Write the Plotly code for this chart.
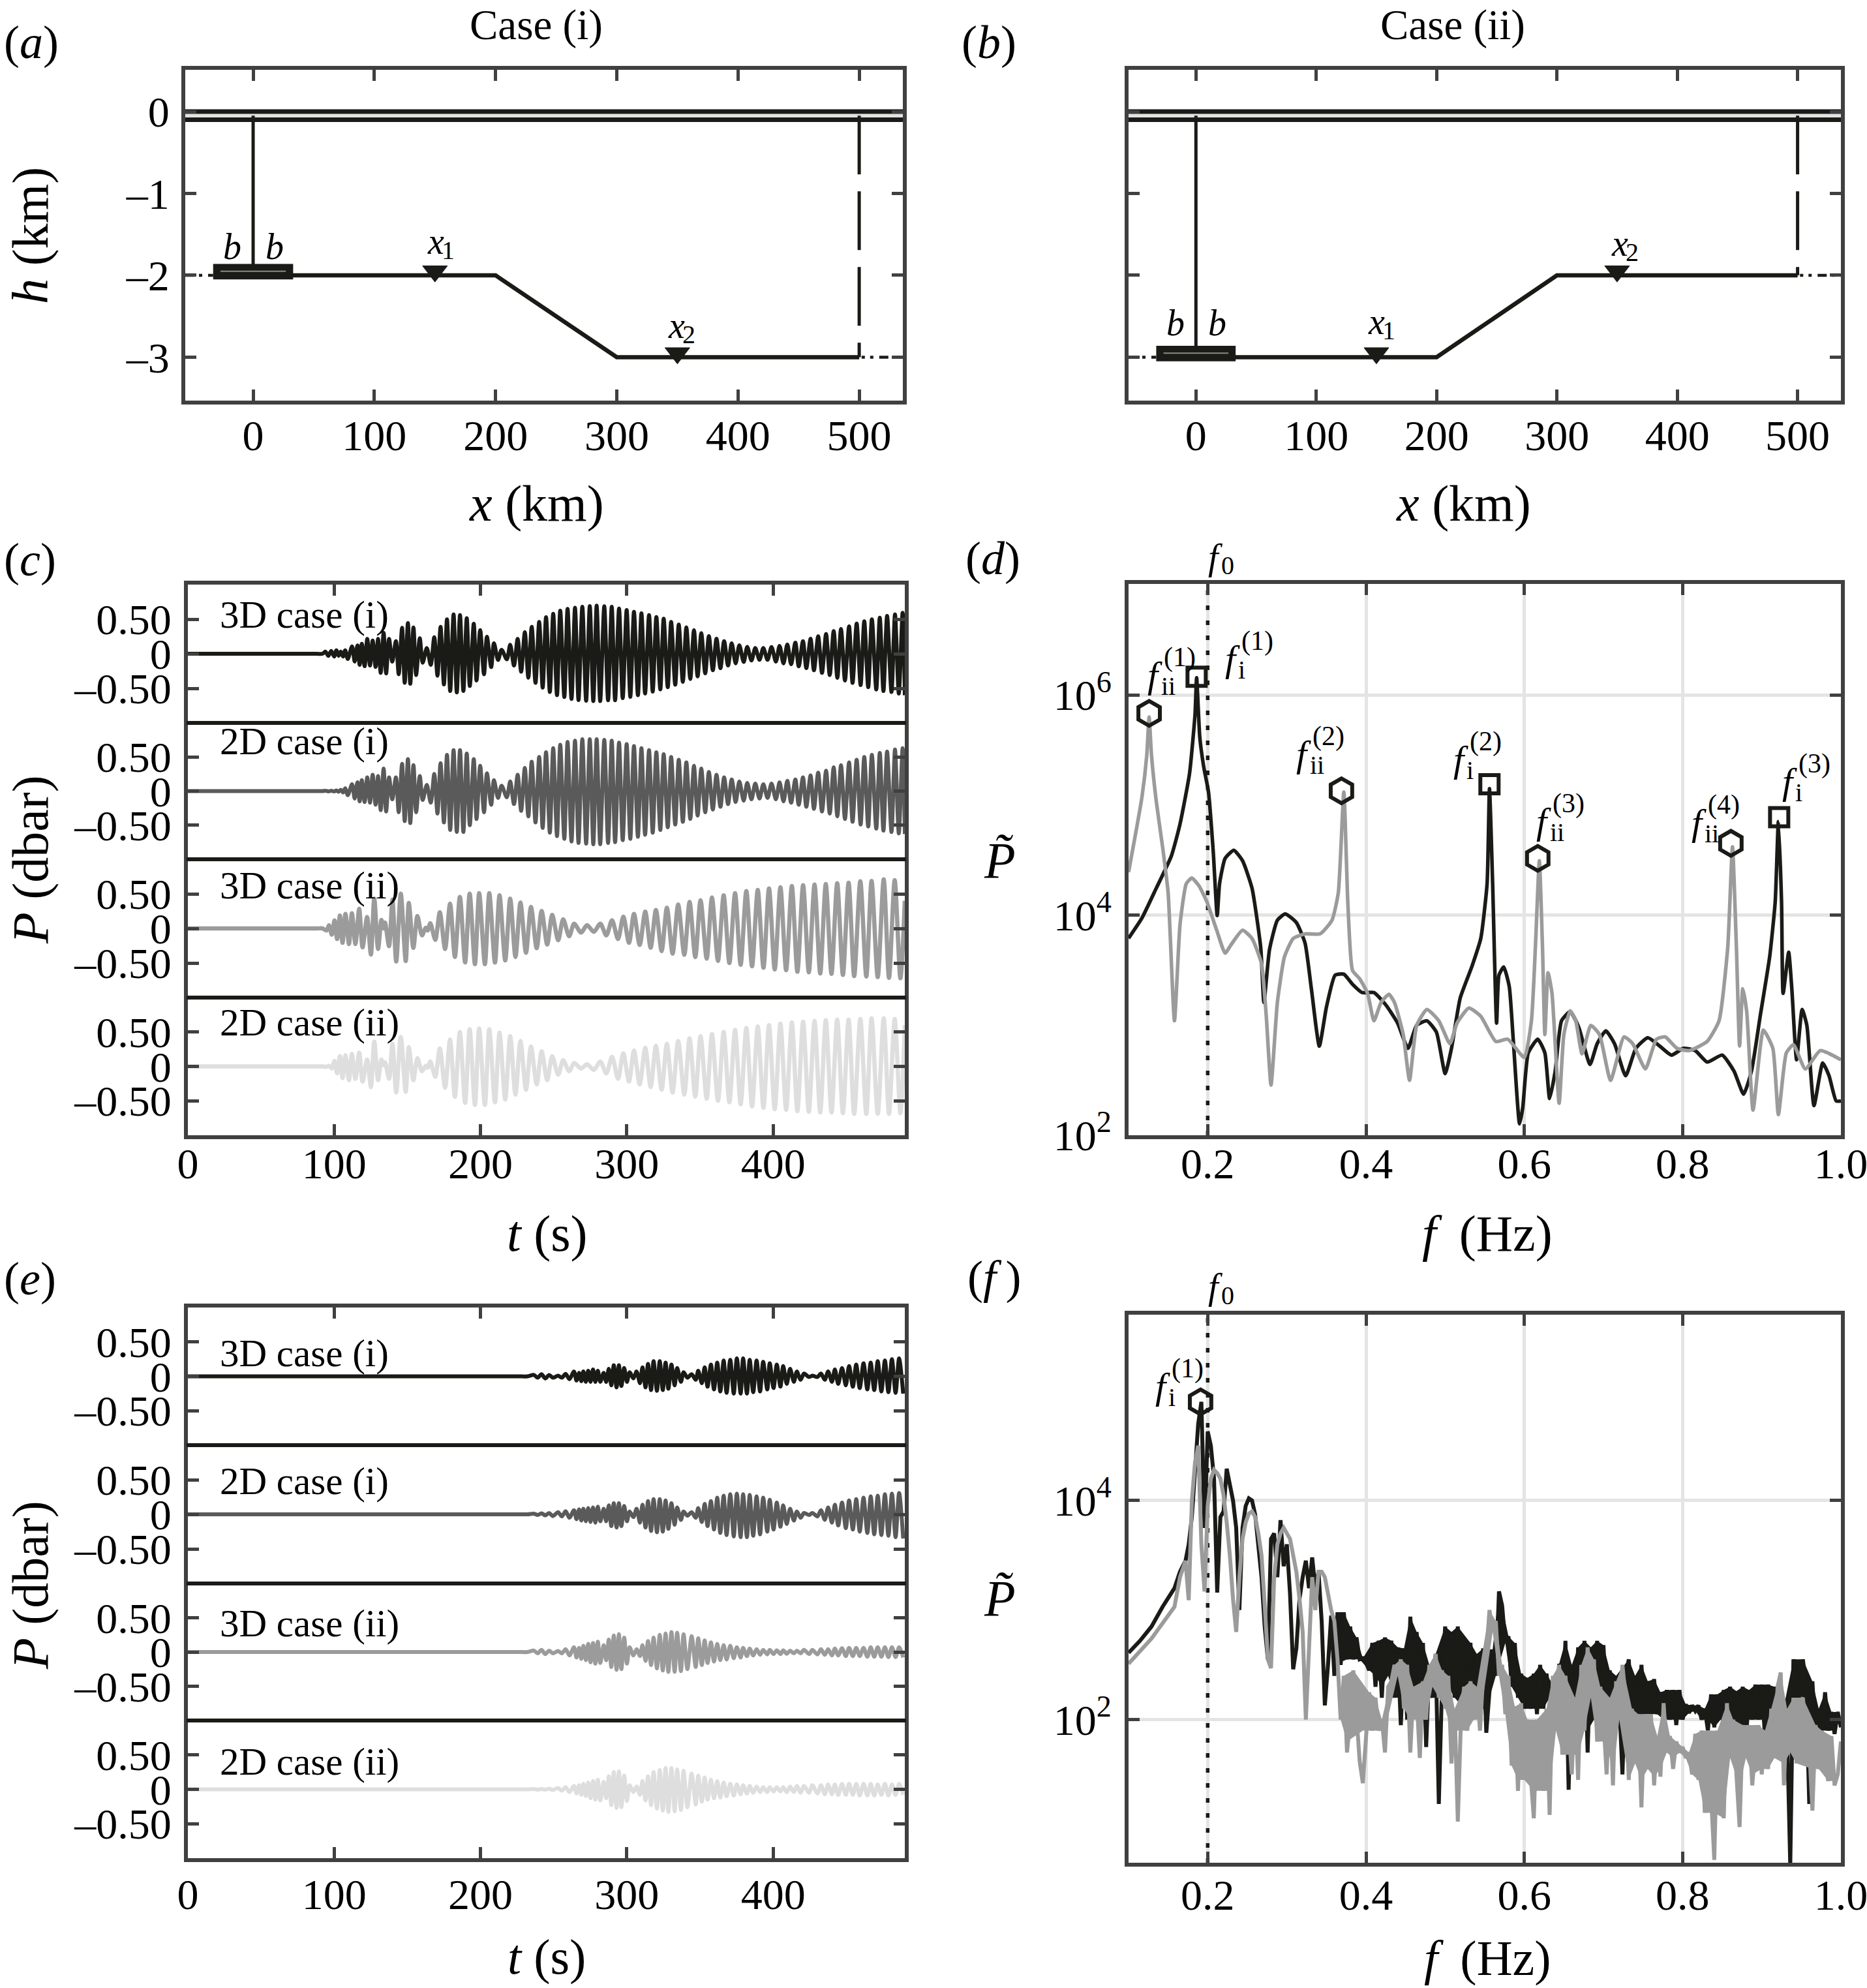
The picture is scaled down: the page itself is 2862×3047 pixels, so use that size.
import numpy as np
import plotly.graph_objects as go

W, H = 2862, 3047
FONT = "Liberation Serif"
BLACK = "#1a1a16"
FRAME = "#404040"
GRID = "#e4e4e4"
C_3D1, C_2D1, C_3D2, C_2D2 = BLACK, "#5a5a5a", "#9b9b9b", "#dedede"

# ---------- panels (a), (b): geometry ----------
bathy_i_x = [30, 200, 300, 500]
bathy_i_h = [-2, -2, -3, -3]
bathy_ii_x = [30, 200, 300, 500]
bathy_ii_h = [-3, -3, -2, -2]
surface_x = [-56, 536]
surface_top = [0, 0]
surface_bot = [-0.1, -0.1]
source_x = [-33, 33]
receiver_x = [150, 350]
receiver_i_h = [-1.95, -2.95]
receiver_ii_h = [-2.95, -1.95]

# ---------- panel (c): extrema of the pressure records ----------
t_ci = [0, 45, 88, 92, 94, 96, 98, 100, 101.5, 103, 104.5, 106, 107.5, 109.3,
        112.2, 114, 115.9, 117.4, 118.9, 120.8, 122.6, 124.5, 126.3, 128.3, 130, 131.8, 133.8, 135.5, 137.5, 139.7,
        142.2, 144.1, 146.4, 148.2, 150.4, 152, 154.2, 156, 158.5, 160.5, 163.3, 166, 168.4, 170.6, 172.7, 175,
        177.1, 179.3, 181.6, 183.8, 186, 188.3, 190.6, 192.7, 195.4, 197.3, 199.8, 202.4, 204.4, 207.3, 209.2, 212,
        214.4, 218, 220.3, 222.9, 225.4, 227.8, 230.3, 232.7, 235, 237.6, 240.1, 242.5, 244.8, 247.4, 249.7, 252.3,
        254.5, 257.3, 259.5, 262.2, 264.6, 267, 269.6, 272.2, 274.7, 277.1, 279.4, 281.8, 284.6, 287.2, 289.7, 292,
        294.7, 297.2, 299.9, 302.4, 304.9, 307.6, 310, 312.5, 315.2, 317.7, 320.2, 322.9, 325.2, 328, 330.3, 333.1,
        335.5, 338.3, 340.7, 343.4, 345.9, 348.4, 350.9, 353.6, 356.1, 358.8, 361.3, 364, 366.5, 369.2, 371.7, 374.4,
        376.9, 379.9, 382.3, 385.2, 387.8, 390.7, 393.3, 396.2, 398.9, 401.9, 404.4, 407.1, 409.7, 412.3, 415.2, 417.5,
        420.4, 422.7, 425.6, 427.9, 430.8, 433.4, 436.2, 438.7, 441.4, 443.9, 446.4, 449.1, 451.9, 454.3, 457.1, 459.8,
        462.3, 465, 467.5, 470.5, 472.9, 475.4, 477.9, 480.9, 483.3, 485.9, 488.5, 490]
p_c_3d_i = [0, 0, 0, 0, .03, -.03, .04, -.04, .05, -.03, .03, -.04, .05, -.075,
            .107, -.113, .12, -.16, .145, -.18, .214, -.17, .192, -.19, .214, -.277, .302, -.286, .214, -.113,
            .182, -.296, .374, -.42, .443, -.434, .38, -.308, .223, -.129, .082, -.16, .239, -.318, .39, -.443,
            .497, -.538, .569, -.56, .56, -.538, .513, -.465, .434, -.387, .343, -.296, .245, -.192, .151, -.09,
            .057, -.08, .129, -.17, .214, -.26, .311, -.346, .39, -.42, .459, -.49, .528, -.553, .579, -.6,
            .623, -.626, .648, -.654, .664, -.67, .679, -.68, .689, -.685, .695, -.685, .686, -.673, .679, -.673,
            .654, -.642, .632, -.623, .607, -.6, .585, -.575, .56, -.547, .531, -.516, .506, -.484, .459, -.447,
            .421, -.406, .381, -.365, .34, -.327, .296, -.283, .255, -.239, .217, -.208, .182, -.17, .151, -.138,
            .123, -.119, .1, -.097, .082, -.088, .082, -.088, .097, -.113, .113, -.138, .135, -.151, .16, -.182,
            .182, -.208, .217, -.239, .252, -.277, .286, -.308, .327, -.349, .358, -.387, .396, -.421, .437, -.453,
            .469, -.484, .497, -.516, .522, -.538, .547, -.553, .569, -.575, .591, -.6]
p_c_2d_i = [0, 0, 0, 0, .005, -.005, .005, -.005, .01, -.01, .02, -.02, .04, -.06,
            .1, -.11, .13, -.15, .16, -.16, .2, -.17, .24, -.2, .22, -.28, .33, -.3, .2, -.12,
            .2, -.31, .4, -.44, .47, -.47, .38, -.31, .22, -.13, .09, -.17, .25, -.33, .41, -.46,
            .53, -.57, .6, -.6, .6, -.6, .55, -.5, .47, -.41, .37, -.31, .26, -.2, .16, -.1,
            .08, -.09, .14, -.19, .24, -.29, .34, -.37, .43, -.46, .5, -.54, .57, -.61, .63, -.66,
            .68, -.7, .72, -.74, .74, -.76, .76, -.77, .76, -.78, .76, -.78, .75, -.76, .74, -.75,
            .71, -.72, .69, -.7, .66, -.67, .63, -.64, .6, -.61, .57, -.57, .54, -.53, .5, -.49,
            .46, -.45, .42, -.41, .37, -.36, .33, -.31, .28, -.27, .24, -.23, .2, -.19, .17, -.16,
            .14, -.14, .12, -.12, .11, -.11, .1, -.1, .11, -.12, .13, -.15, .15, -.17, .17, -.2,
            .2, -.23, .23, -.26, .27, -.3, .3, -.33, .35, -.37, .38, -.41, .42, -.45, .46, -.49,
            .5, -.52, .53, -.55, .56, -.58, .58, -.6, .61, -.62, .63, -.63]
t_cii = [0, 45, 88, 92, 94.8, 96.4, 98.4, 100.2, 102, 103.9, 105.7, 107.7, 110.1, 112.1, 114.5, 117.1, 119.4, 122.5, 125.1, 127.4,
         130, 132.3, 133.6, 134.7, 137.5, 139.8, 142.4, 145.5, 148.9, 151, 154.1, 156.9, 160, 162.6, 163.9, 165.7,
         169.1, 172.2, 175.8, 179.2, 182.5, 185.9, 189.5, 192.6, 196.2, 199.1, 203, 206, 209.9, 213, 216.9, 220.3,
         223.9, 227.3, 231.1, 234.5, 238.4, 241.8, 245.6, 249, 253.1, 256.5, 260.6, 264, 268.7, 272.8, 277.5, 281.9,
         286, 289.9, 294, 297.6, 301.5, 304.9, 308.8, 312.6, 316.3, 319.9, 323.8, 327.4, 331.3, 335.1, 339.3, 342.9,
         346.8, 350.4, 354.6, 358.2, 362.3, 366.2, 370.1, 374, 377.8, 381.7, 385.6, 389.5, 393.4, 397.2, 401.1, 405,
         408.9, 412.8, 416.6, 420.5, 424.4, 428.3, 432.2, 436, 439.9, 443.8, 447.7, 451.6, 455.4, 459.6, 463.7, 467.3,
         471.5, 475.6, 479.2, 483.1, 487, 490]
p_c_3d_ii = [0, 0, 0, 0, -.03, .044, -.09, .116, -.154, .186, -.208, .211, -.226, .22, -.226, .283, -.274, .164, -.377, .43,
             -.296, .123, 0, .085, -.258, .415, -.478, .503, -.472, .368, -.281, .179, -.1, .01, -.03, .075,
             -.164, .233, -.296, .358, -.412, .456, -.491, .503, -.516, .509, -.516, .509, -.494, .478, -.462, .431,
             -.412, .374, -.352, .311, -.286, .252, -.233, .195, -.17, .132, -.113, .069, -.06, .047, -.05, .069,
             -.1, .119, -.154, .17, -.208, .211, -.239, .242, -.28, .267, -.327, .299, -.365, .346, -.381, .384,
             -.415, .409, -.437, .447, -.469, .478, -.5, .509, -.525, .541, -.547, .557, -.569, .579, -.594, .594,
             -.604, .613, -.626, .626, -.635, .635, -.651, .642, -.657, .654, -.673, .66, -.689, .682, -.695, .686,
             -.704, .711, -.714, .698, -.72, .4]
p_c_2d_ii = [0, 0, 0, 0, -.005, .01, -.03, .08, -.1, .15, -.17, .16, -.2, .18, -.18, .2, -.22, .1, -.3, .36,
             -.2, .1, .02, .06, -.18, .33, -.38, .43, -.37, .28, -.2, .12, -.07, .01, -.02, .07,
             -.15, .26, -.31, .39, -.44, .5, -.53, .54, -.56, .55, -.56, .54, -.52, .49, -.48, .44,
             -.41, .37, -.34, .29, -.26, .22, -.2, .15, -.12, .09, -.07, .05, -.03, .03, -.05, .07,
             -.1, .14, -.18, .19, -.22, .23, -.26, .27, -.3, .3, -.34, .33, -.38, .37, -.41, .41,
             -.44, .44, -.47, .47, -.5, .5, -.52, .53, -.55, .56, -.58, .58, -.6, .6, -.62, .62,
             -.63, .64, -.65, .65, -.66, .66, -.67, .67, -.67, .68, -.68, .68, -.69, .69, -.69, .7,
             -.69, .7, -.69, .69, -.68, .6]

# ---------- panel (e) ----------
t_e = [0, 110, 225, 232.2, 236.5, 239.1, 241.7, 244.3, 246.9, 249.5, 253, 255.6, 258.2, 260.8,
       263.9, 265.6, 267.4, 268.9, 270.3, 272, 273.6, 275.2, 276.9, 278.5, 280.2, 281.9, 284.2, 285.9, 287.7, 289.4,
       291.1, 293, 294.6, 296.3, 298.2, 300.1, 301.9, 304.5, 306.7, 309, 310.7, 312.8, 314.5, 316.6, 318.3, 320.6,
       322.5, 324.6, 326.5, 328.4, 330.5, 332.7, 334.4, 337, 338.8, 341.4, 344.3, 347.1, 348.8, 351.3, 353.2, 355.2,
       357.5, 359.6, 361.8, 363.9, 366.2, 368.2, 370.7, 373.1, 375.2, 377.8, 379.5, 382.1, 384, 386.4, 388.7, 391.1,
       393.2, 396, 397.7, 400.3, 402.5, 405, 406.9, 409.3, 411.6, 414.2, 416.2, 418.8, 421.1, 424.6, 426.8, 430.3,
       432.7, 435.3, 437.6, 440.2, 442.2, 444.5, 447.1, 449.7, 451.9, 454.5, 456.8, 459.2, 461.8, 464.4, 466.7, 469.1,
       471.5, 474, 476.4, 478.8, 481.2, 483.7, 486.1, 488.9]
p_e_3d_i = [0, 0, 0, 0, .02, -.02, .03, -.03, .02, -.02, .01, -.02, .035, -.04,
            .07, -.06, .05, -.07, .07, -.08, .08, -.08, .1, -.08, .08, -.08, .05, -.08, .11, -.13,
            .16, -.16, .16, -.14, .12, -.08, .06, -.03, .07, -.1, .13, -.16, .18, -.2, .22, -.21,
            .22, -.2, .2, -.18, .17, -.13, .12, -.08, .06, -.02, .03, -.05, .08, -.1, .13, -.15,
            .17, -.19, .2, -.22, .23, -.24, .24, -.25, .26, -.25, .26, -.25, .24, -.23, .23, -.22,
            .21, -.19, .19, -.17, .17, -.15, .15, -.11, .11, -.08, .07, -.05, .04, -.01, .01, -.01,
            .04, -.05, .07, -.08, .1, -.11, .12, -.13, .15, -.15, .17, -.17, .19, -.19, .2, -.2,
            .22, -.22, .23, -.23, .25, -.24, .26, -.25]
p_e_2d_i = [0, 0, 0, 0, .01, -.01, .015, -.015, .02, -.025, .03, -.03, .045, -.05,
            .06, -.07, .07, -.09, .08, -.1, .09, -.11, .1, -.12, .11, -.1, .08, -.1, .13, -.17,
            .16, -.19, .16, -.17, .12, -.1, .04, -.04, .08, -.12, .14, -.19, .19, -.24, .22, -.26,
            .22, -.25, .2, -.21, .16, -.15, .1, -.08, .04, -.02, .03, -.05, .09, -.11, .15, -.17,
            .19, -.22, .24, -.27, .27, -.3, .29, -.32, .3, -.33, .29, -.33, .28, -.31, .26, -.29,
            .24, -.25, .21, -.22, .17, -.18, .13, -.14, .08, -.09, .04, -.05, .02, -.01, .02, -.03,
            .06, -.08, .1, -.12, .14, -.16, .17, -.2, .2, -.22, .22, -.25, .24, -.27, .26, -.29,
            .27, -.3, .29, -.31, .3, -.33, .31, -.35]
p_e_3d_ii = [0, 0, 0, 0, .02, -.02, .03, -.03, .02, -.02, .015, -.02, .04, -.05,
             .07, -.08, .06, -.1, .09, -.12, .12, -.15, .13, -.17, .15, -.16, .1, -.12, .18, -.22,
             .24, -.26, .26, -.25, .21, -.17, .07, -.05, .04, -.06, .1, -.13, .16, -.19, .21, -.24,
             .25, -.27, .27, -.29, .29, -.29, .28, -.28, .26, -.25, .23, -.22, .2, -.19, .17, -.16,
             .14, -.14, .12, -.12, .1, -.11, .09, -.09, .07, -.08, .06, -.06, .05, -.05, .04, -.04,
             .03, -.035, .03, -.03, .025, -.03, .025, -.025, .02, -.02, .02, -.02, .03, -.03, .03, -.035,
             .04, -.04, .04, -.05, .05, -.05, .055, -.06, .06, -.06, .06, -.06, .06, -.07, .07, -.07,
             .07, -.07, .07, -.075, .07, -.075, .07, -.08]
p_e_2d_ii = [0, 0, 0, 0, .005, -.005, .005, -.005, .01, -.01, .02, -.02, .03, -.04,
             .05, -.06, .06, -.08, .08, -.1, .1, -.13, .12, -.15, .14, -.16, .11, -.13, .19, -.23,
             .25, -.27, .26, -.26, .2, -.17, .06, -.04, .04, -.08, .12, -.16, .19, -.23, .25, -.28,
             .28, -.31, .31, -.33, .31, -.32, .29, -.3, .27, -.26, .23, -.22, .2, -.18, .17, -.15,
             .14, -.13, .12, -.12, .1, -.1, .08, -.09, .07, -.07, .06, -.06, .05, -.05, .04, -.04,
             .03, -.04, .03, -.03, .03, -.03, .03, -.04, .04, -.04, .05, -.05, .05, -.05, .06, -.06,
             .06, -.07, .07, -.07, .07, -.08, .08, -.08, .08, -.08, .08, -.09, .08, -.09, .08, -.09,
             .07, -.08, .08, -.09, .07, -.08, .08, -.08]

# ---------- panel (d): spectra, log10 of P-tilde ----------
f_d_i = [.1, .117, .135, .154, .165, .177, .184, .186, .19, .195, .201, .207, .212, .215, .222, .233, .244, .256, .267, .271,
         .278, .288, .298, .312, .323, .331, .341, .35, .361, .372, .383, .395, .41, .425, .44, .453, .464, .477, .489, .5,
         .508, .519, .534, .545, .553, .556, .56, .565, .568, .574, .581, .586, .594, .598, .605, .617, .626, .632, .639, .647,
         .658, .669, .683, .692, .703, .714, .728, .741, .756, .771, .786, .801, .816, .831, .85, .865, .877, .887, .898, .91,
         .917, .921, .925, .927, .934, .938, .944, .951, .957, .966, .977, .985, .994, 1.0]
logp_d_i = [3.79, 3.975, 4.245, 4.536, 4.827, 5.285, 5.825, 6.158, 5.617, 5.347, 5.119, 4.578, 3.996, 4.287, 4.516, 4.59, 4.495, 4.245, 3.705, 3.206,
            3.684, 3.954, 4.012, 3.933, 3.746, 3.33, 2.81, 3.164, 3.455, 3.464, 3.372, 3.297, 3.297, 3.185, 3.019, 2.79, 3.0, 3.04, 2.936, 2.561,
            2.79, 3.247, 3.538, 3.788, 4.287, 5.15, 4.287, 3.019, 3.455, 3.53, 3.351, 2.873, 2.104, 2.249, 2.748, 2.873, 2.748, 2.333, 2.582, 3.04,
            3.123, 2.977, 2.644, 2.832, 2.948, 2.832, 2.541, 2.79, 2.886, 2.811, 2.728, 2.79, 2.769, 2.665, 2.728, 2.582, 2.374, 2.582, 3.081, 3.622,
            4.121, 4.85, 4.121, 3.289, 3.663, 3.331, 2.686, 3.143, 2.998, 2.27, 2.657, 2.541, 2.312, 2.312]
f_d_ii = [.1, .109, .117, .123, .126, .129, .135, .143, .15, .158, .165, .173, .18, .189, .199, .211, .222, .229, .244, .256,
          .268, .274, .28, .288, .297, .308, .323, .342, .357, .365, .372, .377, .383, .392, .402, .41, .419, .429, .436, .447,
          .455, .464, .477, .492, .506, .515, .53, .545, .564, .579, .6, .609, .614, .619, .623, .626, .63, .635, .644, .65,
          .658, .665, .673, .684, .695, .709, .726, .737, .753, .767, .778, .793, .808, .831, .846, .857, .863, .868, .872, .876,
          .881, .889, .902, .914, .921, .931, .94, .955, .974, 1.0]
logp_d_ii = [4.391, 4.744, 5.077, 5.451, 5.8, 5.451, 5.035, 4.62, 4.204, 3.04, 3.913, 4.287, 4.337, 4.266, 4.121, 3.871, 3.655, 3.726, 3.863, 3.788,
             3.559, 3.081, 2.457, 3.206, 3.622, 3.788, 3.83, 3.83, 3.954, 4.204, 5.119, 4.121, 3.497, 3.422, 3.289, 3.04, 3.206, 3.281, 3.206, 2.915,
             2.499, 2.998, 3.143, 3.04, 2.832, 3.019, 3.156, 3.081, 2.852, 2.873, 2.707, 3.04, 3.705, 4.495, 3.705, 2.915, 3.476, 3.289, 2.291, 2.915,
             3.131, 3.04, 2.74, 2.998, 2.915, 2.499, 2.894, 2.832, 2.603, 2.873, 2.894, 2.79, 2.769, 2.852, 3.04, 3.705, 4.62, 3.705, 2.811, 3.331,
             3.123, 2.229, 2.956, 2.79, 2.187, 2.748, 2.823, 2.603, 2.769, 2.686]
peak_ii_f = [.126, .369, .617, .861]
peak_ii_log = [5.834, 5.13, 4.516, 4.653]
peak_i_f = [.186, .556, .922]
peak_i_log = [6.166, 5.19, 4.89]
f0 = [.2, .2]

# ---------- panel (f): spectra, log10 of P-tilde ----------
f_f = [.1, .1145, .129, .143, .158, .165,
       .172, .176, .18, .184, .188, .192, .196, .2, .204, .208,
       .212, .216, .22, .224, .228, .232, .236, .24, .244, .248,
       .252, .256, .26, .264, .268, .272, .276, .28, .284, .288,
       .292, .296, .3, .304, .308, .312, .316, .32, .324, .328,
       .332, .336, .34, .344, .348, .352, .356, .36, .364, .368,
       .372, .376, .38, .384, .388, .392, .396, .4, .404, .408,
       .412, .416, .42, .424, .428, .432, .436, .44, .444, .448,
       .452, .456, .46, .464, .468, .472, .476, .48, .484, .488,
       .492, .496, .5, .504, .508, .512, .516, .52, .524, .528,
       .532, .536, .54, .544, .548, .552, .556, .56, .564, .568,
       .572, .576, .58, .584, .588, .592, .596, .6, .604, .608,
       .612, .616, .62, .624, .628, .632, .636, .64, .644, .648,
       .652, .656, .66, .664, .668, .672, .676, .68, .684, .688,
       .692, .696, .7, .704, .708, .712, .716, .72, .724, .728,
       .732, .736, .74, .744, .748, .752, .756, .76, .764, .768,
       .772, .776, .78, .784, .788, .792, .796, .8, .804, .808,
       .812, .816, .82, .824, .828, .832, .836, .84, .844, .848,
       .852, .856, .86, .864, .868, .872, .876, .88, .884, .888,
       .892, .896, .9, .904, .908, .912, .916, .92, .924, .928,
       .932, .936, .94, .944, .948, .952, .956, .96, .964, .968,
       .972, .976, .98, .984, .988, .992, .996, 1.0]
logp_f_i = [2.61, 2.72, 2.85, 3.03, 3.2, 3.35,
            3.45, 3.6, 3.85, 4.3, 4.7, 4.9, 3.75, 4.63, 4.5, 4.2,
            3.16, 3.85, 3.9, 4.29, 4.15, 4.0, 3.75, 3.0, 3.75, 3.95,
            4.02, 4.0, 3.87, 3.6, 3.3, 2.85, 2.55, 3.65, 3.7, 3.3,
            3.82, 3.4, 3.6, 3.15, 2.46, 2.65, 3.1, 3.3, 3.45, 3.2,
            3.48, 3.2, 3.35, 2.9, 2.13, 2.5, 2.95, 2.4, 2.98, 2.5,
            2.98, 2.55, 2.85, 2.55, 2.75, 2.55, 2.56, 2.52, 2.45, 2.7,
            2.3, 2.72, 2.2, 2.75, 2.4, 2.72, 2.2, 2.66, 1.95, 2.65,
            2.0, 2.94, 2.3, 2.8, 2.3, 2.7, 1.75, 2.5, 2.2, 2.6,
            1.23, 2.3, 2.85, 2.3, 2.8, 2.2, 2.85, 2.0, 1.98, 2.6,
            2.7, 2.05, 2.6, 2.1, 2.65, 1.88, 2.3, 2.64, 2.4, 3.17,
            3.04, 2.7, 2.76, 2.3, 2.7, 2.2, 2.42, 2.1, 2.38, 2.1,
            2.42, 2.05, 2.5, 2.1, 2.42, 2.2, 2.32, 1.9, 2.51, 2.1,
            2.72, 1.36, 2.5, 2.0, 2.66, 1.9, 2.72, 1.7, 2.66, 2.0,
            2.72, 1.87, 2.68, 2.1, 2.45, 2.0, 2.4, 2.15, 1.5, 2.4,
            2.55, 2.0, 2.4, 2.0, 2.5, 2.05, 2.35, 2.05, 2.37, 2.05,
            2.25, 2.0, 2.27, 2.0, 2.27, 1.95, 2.27, 2.0, 2.14, 2.06,
            2.13, 2.08, 2.13, 2.0, 2.1, 1.9, 2.23, 1.93, 2.23, 2.0,
            2.27, 1.9, 2.3, 2.0, 2.26, 1.88, 2.3, 1.8, 2.27, 2.0,
            2.32, 2.0, 2.32, 1.85, 2.32, 2.0, 2.3, 1.9, 2.0, 2.12,
            1.9, .67, 2.55, 2.4, 2.2, 2.55, 2.3, 1.23, 2.35, 1.85,
            2.1, 1.9, 2.25, 1.9, 2.07, 1.87, 2.07, 1.93]
logp_f_ii = [2.51, 2.62, 2.74, 2.88, 3.03, 3.3,
             3.45, 3.09, 4.0, 4.35, 4.5, 3.6, 3.17, 3.95, 4.2, 4.28,
             4.25, 4.2, 4.05, 3.8, 3.5, 3.1, 2.8, 3.3, 3.65, 3.8,
             3.88, 3.9, 3.85, 3.7, 3.5, 3.05, 2.55, 2.47, 3.3, 3.6,
             3.7, 3.75, 3.7, 3.65, 3.5, 3.35, 3.1, 2.8, 2.0, 2.7,
             3.3, 3.0, 3.35, 3.35, 3.3, 3.15, 3.0, 2.9, 2.55, 2.0,
             2.4, 1.7, 2.0, 2.45, 2.05, 1.62, 1.42, 1.85, 2.25, 1.9,
             2.2, 1.9, 2.0, 1.7, 2.3, 2.35, 2.5, 2.4, 2.55, 2.1,
             2.5, 1.7, 2.3, 2.2, 1.65, 2.35, 2.0, 2.5, 2.3, 2.6,
             2.2, 2.45, 2.1, 2.4, 1.6, 2.1, 1.07, 2.0, 2.3, 1.9,
             2.35, 2.0, 2.3, 1.9, 2.4, 2.6, 3.0, 2.8, 2.9, 2.4,
             2.5, 2.05, 2.4, 1.58, 2.12, 1.35, 2.15, 1.45, 2.0, 1.5,
             1.1, 2.0, 1.7, 1.35, 2.1, 1.13, 2.4, 1.9, 2.5, 1.68,
             2.4, 1.9, 1.5, 2.2, 1.45, 2.5, 1.9, 2.66, 2.2, 2.55,
             1.8, 2.3, 2.0, 1.5, 2.2, 1.4, 2.35, 2.0, 2.5, 2.2,
             1.45, 2.1, 1.6, 2.05, 1.2, 2.05, 1.55, 2.05, 1.4, 1.85,
             1.48, 2.15, 1.7, 1.85, 1.55, 1.8, 1.7, 1.75, 1.65, 1.7,
             1.5, 1.87, 1.45, 1.9, 1.15, 1.9, 1.3, .72, 1.9, 1.75,
             1.1, 2.15, 1.65, 2.0, 1.5, 1.02, 1.95, 1.65, 1.95, 1.4,
             1.75, 1.95, 1.5, 1.9, 1.55, 2.1, 1.65, 2.3, 2.43, 1.4,
             2.1, 1.7, 2.2, 1.6, 2.15, 2.2, 1.85, 1.75, 1.17, 1.95,
             1.55, 1.9, 1.6, 1.44, 1.85, 1.4, 1.5, 1.8]
peak_f_f = [.191]
peak_f_log = [4.9]

assert len(t_ci) == len(p_c_3d_i) == len(p_c_2d_i), (len(t_ci), len(p_c_3d_i), len(p_c_2d_i))
assert len(t_cii) == len(p_c_3d_ii) == len(p_c_2d_ii), (len(t_cii), len(p_c_3d_ii), len(p_c_2d_ii))
assert len(t_e) == len(p_e_3d_i) == len(p_e_2d_i) == len(p_e_3d_ii) == len(p_e_2d_ii)
assert len(f_d_i) == len(logp_d_i), (len(f_d_i), len(logp_d_i))
assert len(f_d_ii) == len(logp_d_ii), (len(f_d_ii), len(logp_d_ii))
assert len(f_f) == len(logp_f_i) == len(logp_f_ii), (len(f_f), len(logp_f_i), len(logp_f_ii))

row_labels_i_ii = ["3D case (i)", "2D case (i)", "3D case (ii)", "2D case (ii)"]
pressure_ticks = [-0.5, 0, 0.5]
pressure_text = ["\u20130.50", "0", "0.50"]
time_ticks = [0, 100, 200, 300, 400]
x_ticks = [0, 100, 200, 300, 400, 500]
h_ticks = [-3, -2, -1, 0]
h_text = ["\u20133", "\u20132", "\u20131", "0"]
f_ticks = [.2, .4, .6, .8, 1.0]
f_text = ["0.2", "0.4", "0.6", "0.8", "1.0"]

fig = go.Figure()
layout = {}
annots = []
shapes = []
axis_n = [0]


def dom_x(l, r):
    return [l / W, r / W]


def dom_y(t, b):
    return [1 - b / H, 1 - t / H]


TICKFONT = dict(family=FONT, size=66, color="black")


def new_axes(xbox, ybox, xopts, yopts):
    axis_n[0] += 1
    n = axis_n[0]
    xname, yname = f"xaxis{n}", f"yaxis{n}"
    base = dict(linecolor=FRAME, linewidth=6, tickcolor=FRAME, tickwidth=5, ticklen=17, automargin=False,
                ticklabeloverflow="allow", tickfont=TICKFONT, zeroline=False, showgrid=False, layer="above traces")
    xd = dict(base)
    xd.update(domain=dom_x(*xbox), anchor=f"y{n}")
    xd.update(xopts)
    yd = dict(base)
    yd.update(domain=dom_y(*ybox), anchor=f"x{n}")
    yd.update(yopts)
    layout[xname] = xd
    layout[yname] = yd
    return f"x{n}", f"y{n}"


def text(x, y, s, size=64, anchor="center", angle=0, color="black"):
    annots.append(dict(x=x / W, y=1 - y / H, xref="paper", yref="paper", text=s, showarrow=False,
                       xanchor=anchor, yanchor="middle", textangle=angle,
                       font=dict(family=FONT, size=size, color=color)))


def line(xa, ya, x, y, color=BLACK, width=5, dash=None, shape="linear", smoothing=None, **kw):
    ln = dict(color=color, width=width, shape=shape)
    if dash:
        ln["dash"] = dash
    if smoothing is not None:
        ln["smoothing"] = smoothing
    fig.add_trace(go.Scatter(x=x, y=y, mode="lines", line=ln, xaxis=xa, yaxis=ya,
                             showlegend=False, hoverinfo="skip", **kw))


def marks(xa, ya, x, y, symbol, size, lw=5, color=BLACK):
    fig.add_trace(go.Scatter(x=x, y=y, mode="markers", xaxis=xa, yaxis=ya, showlegend=False, hoverinfo="skip",
                             marker=dict(symbol=symbol, size=size, color=color, line=dict(width=lw, color=color))))


# ---------- bathymetry panels ----------
def bathy_panel(xbox, bx, bh, depth_src, rx, rh, left_h, right_h, show_labels):
    xa, ya = new_axes(xbox, (107, 614),
                      dict(range=[-56, 536], tickvals=x_ticks, ticks="inside", mirror="ticks", showline=True,
                           ticklabelstandoff=-9),
                      dict(range=[-3.53, 0.51], tickvals=h_ticks, ticktext=h_text, ticks="inside", mirror="ticks",
                           showline=True, showticklabels=show_labels, ticklabelstandoff=5))
    fig.add_trace(go.Scatter(x=surface_x + surface_x[::-1], y=surface_top + surface_bot, fill="toself",
                             fillcolor="#e2e2e2", line=dict(width=0), mode="lines", xaxis=xa, yaxis=ya,
                             showlegend=False, hoverinfo="skip"))
    line(xa, ya, surface_x, surface_top, width=7)
    line(xa, ya, surface_x, surface_bot, width=7)
    line(xa, ya, [0, 0], [-0.05, depth_src + 0.1], width=5)
    line(xa, ya, [500, 500], [-0.05, right_h], width=5, dash="90px,26px")
    line(xa, ya, bx, bh, width=6.5)
    line(xa, ya, [-56, -33], [left_h, left_h], width=4.5, dash="14px,7px,5px,9px")
    line(xa, ya, [502, 536], [right_h, right_h], width=4.5, dash="5px,8px,5px,9px,14px,8px,5px,8px")
    fig.add_trace(go.Scatter(x=[source_x[0], source_x[1], source_x[1], source_x[0], source_x[0]],
                             y=[depth_src + 0.14, depth_src + 0.14, depth_src - 0.05, depth_src - 0.05, depth_src + 0.14],
                             fill="toself", fillcolor=BLACK, line=dict(width=0, color=BLACK), mode="lines",
                             xaxis=xa, yaxis=ya, showlegend=False, hoverinfo="skip"))
    line(xa, ya, [-27, 27], [depth_src + 0.05, depth_src + 0.05], color="#8a8a8a", width=2)
    marks(xa, ya, rx, rh, "triangle-down", 33, lw=1)


bathy_panel((284, 1384), bathy_i_x, bathy_i_h, -2, receiver_x, receiver_i_h, -2, -3, True)
bathy_panel((1730, 2822), bathy_ii_x, bathy_ii_h, -3, receiver_x, receiver_ii_h, -3, -2, False)


# ---------- stacked pressure panels ----------
def stacked(rows, series, boxes_labels, standoff):
    for i, (t, p, color, width) in enumerate(series):
        top, bot = rows[i], rows[i + 1]
        xopts = dict(range=[0, 490], tickvals=time_ticks, showticklabels=False, ticks="", showline=False)
        if i == 0:
            xopts.update(side="top", ticks="inside", showline=True)
        if i == 3:
            xopts.update(side="bottom", ticks="inside", showline=True, showticklabels=True, ticklabelstandoff=standoff)
        yopts = dict(range=[-1, 1], tickvals=pressure_ticks, ticktext=pressure_text, ticks="inside", mirror="ticks",
                     showline=True, ticklabelstandoff=6)
        xa, ya = new_axes((288, 1387), (top, bot), xopts, yopts)
        line(xa, ya, t, p, color=color, width=width, shape="spline", smoothing=0.8)
    for y in rows[1:-1]:
        shapes.append(dict(type="line", xref="paper", yref="paper", x0=286 / W, x1=1389 / W,
                           y0=1 - y / H, y1=1 - y / H, line=dict(color=BLACK, width=6), layer="above"))
    for lab, y in zip(row_labels_i_ii, boxes_labels):
        text(335, y, lab, size=59, anchor="left")


stacked([896, 1108, 1317, 1529, 1740],
        [(t_ci, p_c_3d_i, C_3D1, 6), (t_ci, p_c_2d_i, C_2D1, 6), (t_cii, p_c_3d_ii, C_3D2, 6.5), (t_cii, p_c_2d_ii, C_2D2, 6.5)],
        [942, 1136, 1357, 1567], -19)
stacked([2004, 2215, 2427, 2637, 2848],
        [(t_e, p_e_3d_i, C_3D1, 6), (t_e, p_e_2d_i, C_2D1, 6), (t_e, p_e_3d_ii, C_3D2, 6), (t_e, p_e_2d_ii, C_2D2, 6)],
        [2074, 2270, 2488, 2700], -7)


# ---------- spectra ----------
def spectrum_axes(ybox, yrange, ticks, ticktext, standoff):
    return new_axes((1730, 2822), ybox,
                    dict(range=[.1, 1.0], tickvals=f_ticks, ticktext=f_text, ticks="inside", mirror="ticks",
                         showline=True, showgrid=True, gridcolor=GRID, gridwidth=5, ticklabelstandoff=standoff),
                    dict(type="log", range=yrange, tickvals=ticks, ticktext=ticktext, ticks="inside", mirror="ticks",
                         showline=True, showgrid=True, gridcolor=GRID, gridwidth=5, ticklabelstandoff=7))


def pw(v):
    return (10.0 ** np.array(v, dtype=float)).tolist()


def noise_band(xa, ya, f, logp, color, f_start):
    """Solid band between the local highs and lows of a read spectrum (narrow deep spikes stay as line only)."""
    f = np.array(f)
    v = np.array(logp)
    idx = np.arange(1, len(v) - 1)
    idx = idx[f[idx] >= f_start]
    hi = [i for i in idx if v[i] >= v[i - 1] and v[i] >= v[i + 1]]
    lo = [i for i in idx if v[i] <= v[i - 1] and v[i] <= v[i + 1]]
    lo_v = v[lo]
    up = list(v[hi])
    dn = [max(lo_v[k], np.median(lo_v[max(0, k - 2):k + 3])) for k in range(len(lo))]
    px = list(f[hi]) + list(f[lo][::-1])
    py = pw(up + dn[::-1])
    fig.add_trace(go.Scatter(x=px, y=py, mode="lines", fill="toself", fillcolor=color, line=dict(width=0, color=color),
                             xaxis=xa, yaxis=ya, showlegend=False, hoverinfo="skip"))


xa, ya = spectrum_axes((895, 1740), [2, 7.01], [1e2, 1e4, 1e6], ["10<sup>2</sup>", "10<sup>4</sup>", "10<sup>6</sup>"], -19)
line(xa, ya, f0, [1e2, 1e7], width=5.5, dash="7px,16px")
line(xa, ya, f_d_i, pw(logp_d_i), width=5.5, shape="spline", smoothing=0.5)
line(xa, ya, f_d_ii, pw(logp_d_ii), color=C_3D2, width=5.5, shape="spline", smoothing=0.5)
marks(xa, ya, peak_ii_f, pw(peak_ii_log), "hexagon-open", 38, lw=6)
marks(xa, ya, peak_i_f, pw(peak_i_log), "square-open", 28, lw=6)

xa, ya = spectrum_axes((2015, 2855), [.694, 5.696], [1e2, 1e4], ["10<sup>2</sup>", "10<sup>4</sup>"], -13)
line(xa, ya, f0, [10 ** .694, 10 ** 5.696], width=5.5, dash="7px,16px")
noise_band(xa, ya, f_f, logp_f_i, BLACK, .36)
line(xa, ya, f_f, pw(logp_f_i), width=6)
noise_band(xa, ya, f_f, logp_f_ii, C_3D2, .36)
line(xa, ya, f_f, pw(logp_f_ii), color=C_3D2, width=6)
marks(xa, ya, peak_f_f, pw(peak_f_log), "hexagon-open", 38, lw=6)

# ---------- texts ----------
text(48, 65, "(<i>a</i>)", 72)
text(1516, 65, "(<i>b</i>)", 72)
text(46, 858, "(<i>c</i>)", 72)
text(1522, 856, "(<i>d</i>)", 72)
text(46, 1960, "(<i>e</i>)", 72)
text(1524, 1958, "(<i>f</i>\u2009)", 72)
text(822, 38, "Case (i)", 65)
text(2227, 38, "Case (ii)", 65)
text(822, 771, "<i>x</i> (km)", 78)
text(2243, 771, "<i>x</i> (km)", 78)
text(47, 361, "<i>h</i> (km)", 78, angle=-90)
text(46, 1318, "<i>P</i> (dbar)", 78, angle=-90)
text(46, 2430, "<i>P</i> (dbar)", 78, angle=-90)
text(838, 1891, "<i>t</i> (s)", 78)
text(838, 2999, "<i>t</i> (s)", 76)
text(2280, 1891, "<i>f</i>\u2009 (Hz)", 78)
text(2280, 3001, "<i>f</i>\u2009 (Hz)", 76)
text(1533, 1318, "<i>P\u0303</i>", 78)
text(1533, 2449, "<i>P\u0303</i>", 78)

# panel (a), (b) small labels
text(356, 378, "<i>b</i>", 56)
text(421, 378, "<i>b</i>", 56)
text(1802, 495, "<i>b</i>", 56)
text(1866, 495, "<i>b</i>", 56)


def sub_label(x, y, main, sub, size=56):
    text(x, y, f"<i>{main}</i>", size)
    text(x + 19, y + 13, sub, 40)


sub_label(668, 370, "x", "1")
sub_label(1037, 499, "x", "2")
sub_label(2110, 493, "x", "1")
sub_label(2483, 373, "x", "2")
sub_label(1863, 854, "f", "0")
sub_label(1863, 1972, "f", "0")


def f_label(zx, zy, sub, sup, x0=1431, y0=820, ky=0.702):
    x = x0 + 0.913 * zx
    y = y0 + ky * zy
    text(x, y, "<i>f</i>", 58)
    subdx = 20 if sub == "ii" else 14
    text(x + subdx, y + 17, sub, 40)
    text(x + 38, y - 27, sup, 42)


f_label(372, 305, "ii", "(1)")
f_label(502, 270, "i", "(1)")
f_label(622, 478, "ii", "(2)")
f_label(885, 490, "i", "(2)")
f_label(1025, 625, "ii", "(3)")
f_label(1285, 628, "ii", "(4)")
f_label(1438, 538, "i", "(3)")
f_label(385, 285, "i", "(1)", y0=1920, ky=0.719)

layout.update(width=W, height=H, margin=dict(l=0, r=0, t=0, b=0, autoexpand=False), paper_bgcolor="white",
              plot_bgcolor="white", showlegend=False, annotations=annots, shapes=shapes,
              font=dict(family=FONT, color="black"))
fig.update_layout(**layout)
fig.write_html("out.html", post_script="document.body.style.margin='0';", config={"displayModeBar": False})
